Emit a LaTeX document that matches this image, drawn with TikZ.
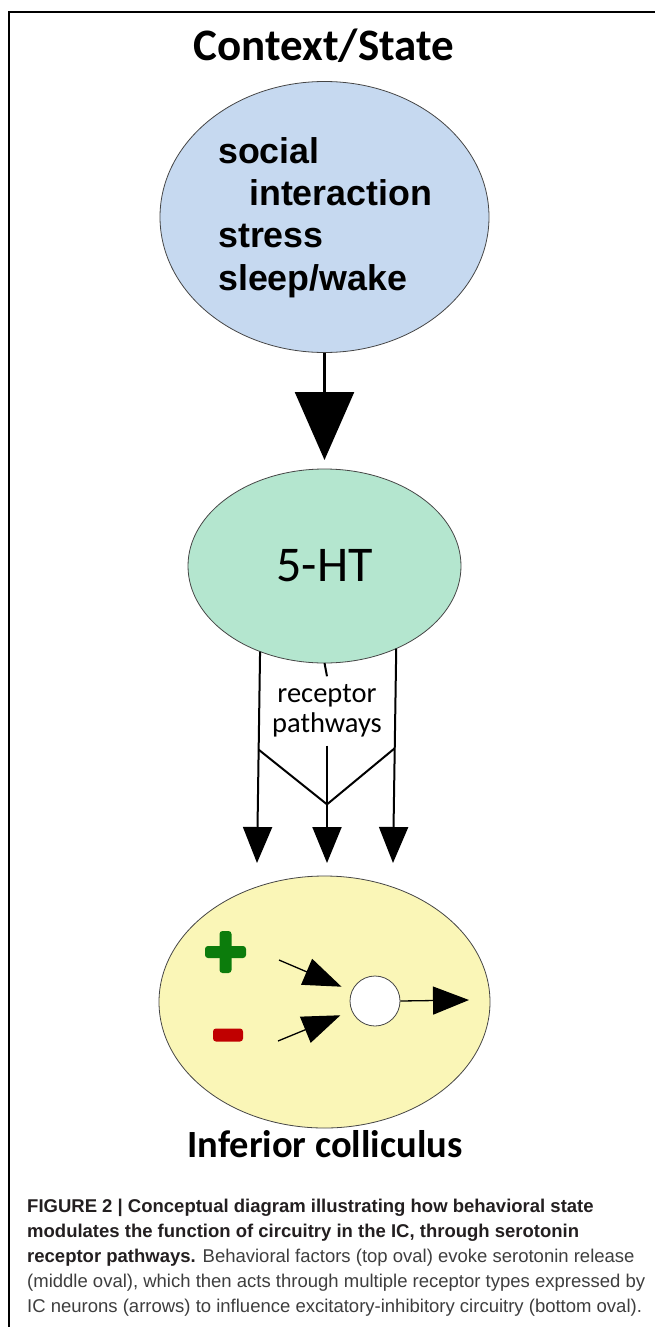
\documentclass[tikz,border=0pt]{standalone}
\usepackage{fontspec}
\setmainfont{Carlito}
\newfontfamily\arialfont{Liberation Sans}
\usetikzlibrary{arrows.meta,shapes.geometric,calc}

\definecolor{ctxblue}{RGB}{198,217,240}
\definecolor{htgreen}{RGB}{180,230,207}
\definecolor{icyellow}{RGB}{250,246,183}
\definecolor{plusgreen}{RGB}{12,124,12}
\definecolor{minusred}{RGB}{192,0,0}
\definecolor{capbold}{RGB}{35,31,32}
\definecolor{capreg}{RGB}{62,62,62}
\definecolor{rimgray}{RGB}{70,70,70}

\tikzset{
  oval/.style={ellipse, draw=rimgray, line width=0.8pt, inner sep=0pt, outer sep=0pt},
  heading/.style={font=\bfseries\fontsize{45}{50}\selectfont, inner sep=0pt, anchor=base},
  factor/.style={font=\arialfont\bfseries\fontsize{35.8}{42}\selectfont, inner sep=0pt, anchor=base west},
  bigarrow/.style={line width=2.5pt, -{Triangle[length=68pt,width=59pt]}},
  patharrow/.style={line width=2pt, -{Triangle[length=36pt,width=29pt]}},
  pathline/.style={line width=2pt},
  innerarrow/.style={line width=1.3pt, -{Triangle[length=38pt,width=28pt]}},
  capline/.style={font=\arialfont\fontsize{18.5}{25}\selectfont, text=capreg, inner sep=0pt, anchor=base west},
  signbar/.style={rounded corners=3pt}
}

\begin{document}
\begin{tikzpicture}[x=1pt,y=-1pt]
  \useasboundingbox (0,0) rectangle (655,1327);
  \fill[white] (0,0) rectangle (655,1327);

  % frame
  \draw[line width=2.5pt, line join=miter] (655,12) -- (9,12) -- (9,1327);

  % title
  \node[heading] (title) at (324,61) {Context/State};

  % behavioural context oval
  \node[oval, fill=ctxblue, minimum width=329pt, minimum height=271pt] (ctx) at (324.5,217) {};
  \node[factor] (f1) at (218,163) {social};
  \node[factor] (f2) at (249,205) {interaction};
  \node[factor] (f3) at (218,247) {stress};
  \node[factor] (f4) at (218,290) {sleep/wake};

  % serotonin oval
  \node[oval, fill=htgreen, minimum width=273pt, minimum height=194pt,
        font=\fontsize{50}{56}\selectfont] (ht) at (324.5,566) {5-HT};

  \draw[bigarrow, shorten >=9pt] (ctx.south) -- (ht.north);

  % inferior colliculus oval
  \node[oval, fill=icyellow, minimum width=331pt, minimum height=252pt] (ic) at (324.5,1002) {};

  % receptor pathways
  \node[inner sep=0pt, minimum height=69pt, align=center,
        font=\fontsize{28.5}{30}\selectfont] (rp) at (327,711) {receptor\\pathways};
  \coordinate (t1) at (257,863);
  \coordinate (t2) at (327,863);
  \coordinate (t3) at (393,863);
  \draw[pathline] (ht.south) -- (rp.north);
  \draw[patharrow] (ht.233.6) -- (t1);
  \draw[patharrow] (rp.south) -- (t2);
  \draw[patharrow] (ht.311.5) -- (t3);
  \coordinate (v1) at ($(ht.233.6)!0.464!(t1)$);
  \coordinate (v2) at ($(rp.south)!0.5!(t2)$);
  \coordinate (v3) at ($(ht.311.5)!0.465!(t3)$);
  \draw[pathline, line join=miter] (v1) -- (v2) -- (v3);

  % excitatory / inhibitory signs
  \fill[plusgreen, signbar] (205,946) rectangle (246,958);
  \fill[plusgreen, signbar] (219.5,931) rectangle (231.5,973);
  \fill[minusred, signbar] (213,1028.5) rectangle (243,1041.5);

  % neuron and its inputs / output
  \node[circle, draw=rimgray, line width=0.8pt, fill=white, minimum size=50pt, inner sep=0pt] (neuron) at (375,1001) {};
  \coordinate (e1) at (279,960);
  \coordinate (e2) at (278,1041);
  \coordinate (out) at (469,1000);
  \draw[innerarrow, shorten >=11pt] (e1) -- (neuron);
  \draw[innerarrow, shorten >=12pt] (e2) -- (neuron);
  \draw[line width=1.3pt, -{Triangle[length=36pt,width=28pt]}] (neuron.east) -- (out);

  \node[heading, font=\bfseries\fontsize{38.5}{44}\selectfont] (iclabel) at (325,1157) {Inferior colliculus};

  % caption
  \node[capline] (cap1) at (27,1212) {\textcolor{capbold}{\bfseries FIGURE 2 | Conceptual diagram illustrating how behavioral state}};
  \node[capline] (cap2) at (27,1237) {\textcolor{capbold}{\bfseries modulates the function of circuitry in the IC, through serotonin}};
  \node[capline] (cap3) at (27,1262) {\textcolor{capbold}{\bfseries receptor pathways.} Behavioral factors (top oval) evoke serotonin release};
  \node[capline] (cap4) at (27,1287) {(middle oval), which then acts through multiple receptor types expressed by};
  \node[capline] (cap5) at (27,1312) {IC neurons (arrows) to influence excitatory-inhibitory circuitry (bottom oval).};
\end{tikzpicture}
\end{document}
